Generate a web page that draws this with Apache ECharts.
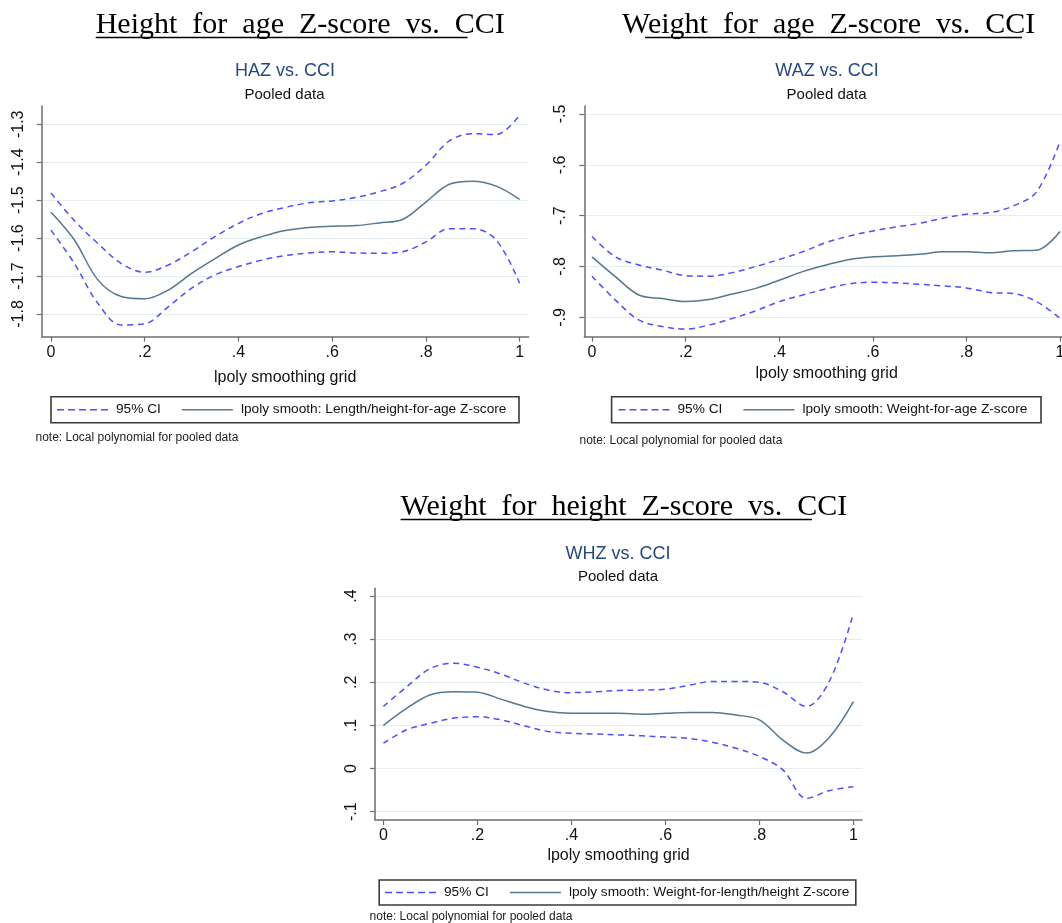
<!DOCTYPE html>
<html>
<head>
<meta charset="utf-8">
<script src="https://cdn.jsdelivr.net/npm/echarts/dist/echarts.min.js"></script>
<style>
html,body{margin:0;padding:0;background:#fff;}
#chart{width:1062px;height:923px;}
</style>
</head>
<body>
<div id="chart"></div>
<script>
// ---- data ----
const xGrid = [0, 0.05, 0.1, 0.15, 0.2, 0.25, 0.3, 0.35, 0.4, 0.45, 0.5, 0.55, 0.6, 0.65, 0.7, 0.75, 0.8, 0.85, 0.9, 0.95, 1];

const hazUpper = [-1.481, -1.554, -1.614, -1.667, -1.690, -1.671, -1.636, -1.596, -1.561, -1.535, -1.519, -1.507, -1.502, -1.493, -1.478, -1.456, -1.408, -1.344, -1.325, -1.327, -1.276];
const hazFit   = [-1.532, -1.605, -1.710, -1.754, -1.760, -1.737, -1.693, -1.654, -1.618, -1.596, -1.580, -1.572, -1.569, -1.567, -1.560, -1.551, -1.505, -1.458, -1.450, -1.463, -1.498];
const hazLower = [-1.579, -1.667, -1.772, -1.829, -1.826, -1.781, -1.732, -1.697, -1.675, -1.658, -1.646, -1.639, -1.636, -1.639, -1.640, -1.636, -1.610, -1.575, -1.575, -1.605, -1.719];

const wazUpper = [-0.741, -0.781, -0.797, -0.807, -0.818, -0.819, -0.812, -0.800, -0.786, -0.771, -0.753, -0.740, -0.730, -0.722, -0.715, -0.705, -0.697, -0.694, -0.681, -0.653, -0.554];
const wazFit   = [-0.781, -0.820, -0.856, -0.863, -0.869, -0.865, -0.854, -0.843, -0.827, -0.810, -0.797, -0.786, -0.781, -0.779, -0.776, -0.771, -0.771, -0.773, -0.769, -0.768, -0.731];
const wazLower = [-0.819, -0.866, -0.905, -0.918, -0.923, -0.915, -0.902, -0.887, -0.869, -0.856, -0.844, -0.834, -0.831, -0.832, -0.835, -0.838, -0.842, -0.851, -0.853, -0.869, -0.902];

const whzUpper = [0.144, 0.190, 0.232, 0.244, 0.235, 0.219, 0.198, 0.182, 0.176, 0.178, 0.181, 0.182, 0.184, 0.193, 0.202, 0.202, 0.200, 0.178, 0.144, 0.205, 0.360];
const whzFit   = [0.100, 0.140, 0.171, 0.178, 0.177, 0.161, 0.144, 0.132, 0.128, 0.128, 0.128, 0.126, 0.128, 0.130, 0.130, 0.124, 0.113, 0.066, 0.036, 0.074, 0.155];
const whzLower = [0.059, 0.090, 0.105, 0.117, 0.120, 0.113, 0.099, 0.086, 0.082, 0.080, 0.078, 0.076, 0.073, 0.070, 0.061, 0.047, 0.028, -0.003, -0.069, -0.051, -0.042];

const xTickValues = [0, 0.2, 0.4, 0.6, 0.8, 1];
const xTickLabels = ['0', '.2', '.4', '.6', '.8', '1'];
const hazTickValues = [-1.8, -1.7, -1.6, -1.5, -1.4, -1.3];
const hazTickLabels = ['-1.8', '-1.7', '-1.6', '-1.5', '-1.4', '-1.3'];
const wazTickValues = [-0.9, -0.8, -0.7, -0.6, -0.5];
const wazTickLabels = ['-.9', '-.8', '-.7', '-.6', '-.5'];
const whzTickValues = [-0.1, 0, 0.1, 0.2, 0.3, 0.4];
const whzTickLabels = ['-.1', '0', '.1', '.2', '.3', '.4'];

const headings = ['Height  for  age  Z-score  vs.  CCI', 'Weight  for  age  Z-score  vs.  CCI', 'Weight  for  height  Z-score  vs.  CCI'];
const plotTitles = ['HAZ vs. CCI', 'WAZ vs. CCI', 'WHZ vs. CCI'];
const subTitle = 'Pooled data';
const xAxisName = 'lpoly smoothing grid';
const ciName = '95% CI';
const fitNames = ['lpoly smooth: Length/height-for-age Z-score', 'lpoly smooth: Weight-for-age Z-score', 'lpoly smooth: Weight-for-length/height Z-score'];
const noteText = 'note: Local polynomial for pooled data';

// ---- styling / layout ----
const SANS = "'Liberation Sans', Arial, sans-serif";
const SERIF = "'Liberation Serif', 'Times New Roman', serif";
const CI_COLOR = '#4f4ff7';
const FIT_COLOR = '#557890';
const AXIS_COLOR = '#6a6f73';
const GRID_COLOR = '#e3edef';

const panels = [
  { grid: {left: 41.7, top: 106, width: 486.9, height: 230.7}, xMin: -0.0198, xMax: 1.0192, yMin: -1.8598, yMax: -1.2518,
    yTicks: hazTickValues, yLabels: hazTickLabels, upper: hazUpper, fit: hazFit, lower: hazLower,
    nameGap: 33, yMargin: 15,
    head: {left: 95.7, top: 10}, uline: [95.7, 467.6, 37.5],
    ttl: {left: 285, top: 62.5}, sub: {left: 284.5, top: 87.5},
    box: [51, 396.7, 468, 26], legend: {left: 57, top: 402.7}, note: {left: 35.5, top: 431.3} },
  { grid: {left: 584.3, top: 106, width: 484.7, height: 230.7}, xMin: -0.01645, xMax: 1.0192, yMin: -0.938, yMax: -0.4843,
    yTicks: wazTickValues, yLabels: wazTickLabels, upper: wazUpper, fit: wazFit, lower: wazLower,
    nameGap: 29, yMargin: 16,
    head: {left: 622, top: 10}, uline: [645, 1022, 37.5],
    ttl: {left: 827, top: 62.5}, sub: {left: 826.6, top: 87.5},
    box: [611.6, 396.7, 429.4, 26], legend: {left: 618.5, top: 402.7}, note: {left: 579.5, top: 434.7} },
  { grid: {left: 375.1, top: 588.3, width: 486.9, height: 231.7}, xMin: -0.01766, xMax: 1.0183, yMin: -0.1193, yMax: 0.4179,
    yTicks: whzTickValues, yLabels: whzTickLabels, upper: whzUpper, fit: whzFit, lower: whzLower,
    nameGap: 28, yMargin: 15.5,
    head: {left: 400.6, top: 491.7}, uline: [400.6, 812, 519.5],
    ttl: {left: 618, top: 545}, sub: {left: 618, top: 569.2},
    box: [379.2, 880, 476.6, 25], legend: {left: 385, top: 885.5}, note: {left: 369.6, top: 910.7} }
];

const dashIcon = 'path://M0,0h7v1.6h-7z M11,0h7v1.6h-7z M22,0h7v1.6h-7z M33,0h7v1.6h-7z M44,0h7v1.6h-7z';

function labelFor(values, labels) {
  return function (v) {
    const i = values.findIndex(t => Math.abs(t - v) < 1e-9);
    return i >= 0 ? labels[i] : '';
  };
}
function pairs(ys) { return xGrid.map((x, i) => [x, ys[i]]); }

const option = {
  animation: false,
  backgroundColor: '#ffffff',
  title: [], grid: [], xAxis: [], yAxis: [], series: [], legend: [], graphic: []
};

panels.forEach((p, k) => {
  option.title.push({ text: headings[k], left: p.head.left, top: p.head.top, padding: 0,
    textStyle: { fontFamily: SERIF, fontSize: 30, fontWeight: 'normal', color: '#000' } });
  option.title.push({ text: plotTitles[k], left: p.ttl.left, top: p.ttl.top, padding: 0, textAlign: 'center',
    textStyle: { fontFamily: SANS, fontSize: 18, fontWeight: 'normal', color: '#25487d' } });
  option.title.push({ text: subTitle, left: p.sub.left, top: p.sub.top, padding: 0, textAlign: 'center',
    textStyle: { fontFamily: SANS, fontSize: 15, fontWeight: 'normal', color: '#111' } });
  option.title.push({ text: noteText, left: p.note.left, top: p.note.top, padding: 0,
    textStyle: { fontFamily: SANS, fontSize: 12, fontWeight: 'normal', color: '#222' } });

  option.grid.push(Object.assign({ containLabel: false, outerBoundsMode: 'none' }, p.grid));

  option.xAxis.push({
    type: 'value', gridIndex: k, min: p.xMin, max: p.xMax,
    name: xAxisName, nameLocation: 'middle', nameGap: p.nameGap,
    nameTextStyle: { fontFamily: SANS, fontSize: 16, color: '#111' },
    axisLine: { show: true, onZero: false, lineStyle: { color: AXIS_COLOR, width: 1.5 } },
    axisTick: { show: true, length: 5, customValues: xTickValues, lineStyle: { color: AXIS_COLOR, width: 1.2 } },
    axisLabel: { show: true, margin: 8, customValues: xTickValues, formatter: labelFor(xTickValues, xTickLabels),
      fontFamily: SANS, fontSize: 16, color: '#111' },
    splitLine: { show: false }
  });

  option.yAxis.push({
    type: 'value', gridIndex: k, min: p.yMin, max: p.yMax,
    axisLine: { show: true, onZero: false, lineStyle: { color: AXIS_COLOR, width: 1.5 } },
    axisTick: { show: true, length: 5, customValues: p.yTicks, lineStyle: { color: AXIS_COLOR, width: 1.2 } },
    axisLabel: { show: true, rotate: 90, margin: p.yMargin, customValues: p.yTicks, formatter: labelFor(p.yTicks, p.yLabels),
      fontFamily: SANS, fontSize: 16, color: '#111' },
    splitLine: { show: true, lineStyle: { color: GRID_COLOR, width: 1 } }
  });

  const ciStyle = { color: CI_COLOR, width: 1.5, type: [6, 4.5] };
  option.series.push({ type: 'line', name: ciName, xAxisIndex: k, yAxisIndex: k, data: pairs(p.upper),
    showSymbol: false, smooth: 0.35, color: CI_COLOR, itemStyle: { color: CI_COLOR }, lineStyle: ciStyle, clip: false, z: 3 });
  option.series.push({ type: 'line', name: ciName, xAxisIndex: k, yAxisIndex: k, data: pairs(p.lower),
    showSymbol: false, smooth: 0.35, color: CI_COLOR, itemStyle: { color: CI_COLOR }, lineStyle: ciStyle, clip: false, z: 3 });
  option.series.push({ type: 'line', name: fitNames[k], xAxisIndex: k, yAxisIndex: k, data: pairs(p.fit),
    showSymbol: false, smooth: 0.35, color: FIT_COLOR, itemStyle: { color: FIT_COLOR },
    lineStyle: { color: FIT_COLOR, width: 1.5 }, clip: false, z: 4 });

  option.legend.push({
    left: p.legend.left, top: p.legend.top, orient: 'horizontal', padding: 0, itemGap: 21,
    itemWidth: 51, itemHeight: 1.6, selectedMode: false,
    textStyle: { fontFamily: SANS, fontSize: 13.7, color: '#111', padding: [0, 0, 0, 3] },
    data: [ { name: ciName, icon: dashIcon, itemStyle: { color: CI_COLOR } },
            { name: fitNames[k], icon: 'rect', itemStyle: { color: FIT_COLOR } } ]
  });

  option.graphic.push({ type: 'rect', shape: { x: p.box[0], y: p.box[1], width: p.box[2], height: p.box[3] },
    style: { fill: 'none', stroke: '#3a3a3a', lineWidth: 1.6 }, silent: true, z: 10 });
  option.graphic.push({ type: 'line', shape: { x1: p.uline[0], y1: p.uline[2], x2: p.uline[1], y2: p.uline[2] },
    style: { stroke: '#000', lineWidth: 1.5 }, silent: true, z: 10 });
});

const chart = echarts.init(document.getElementById('chart'), null, { renderer: 'canvas' });
chart.setOption(option);
</script>
</body>
</html>
